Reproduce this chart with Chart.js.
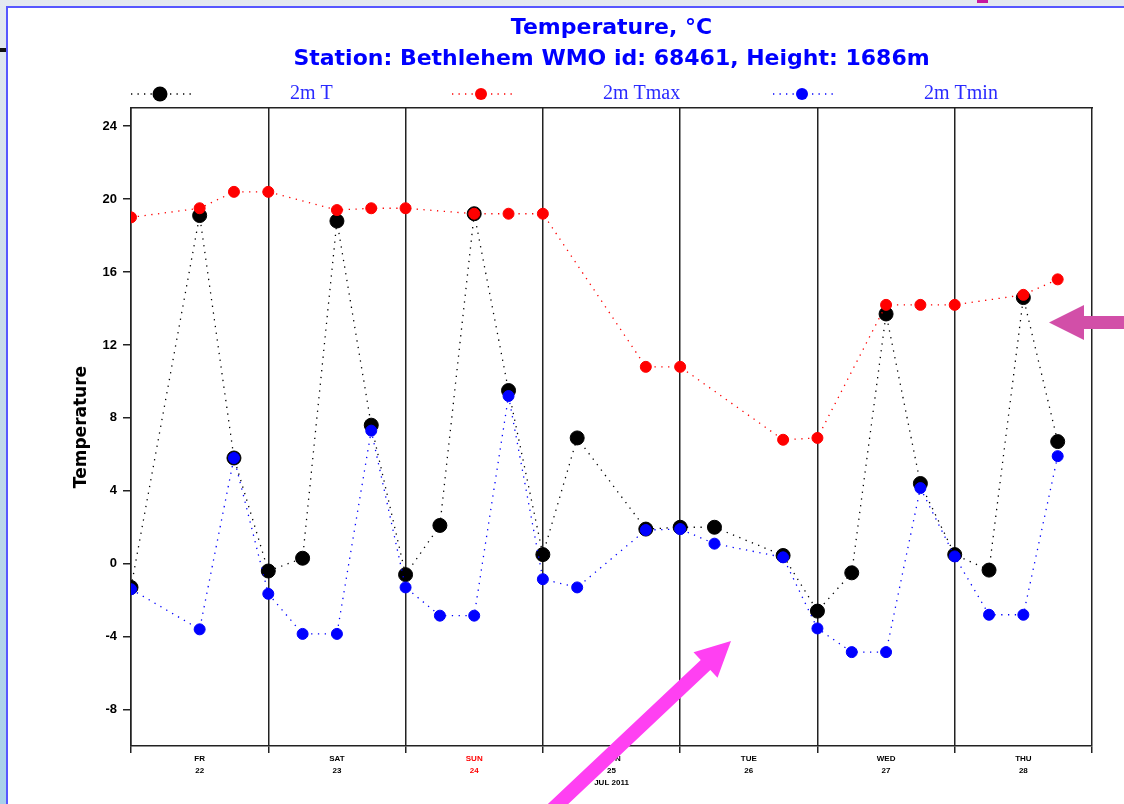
<!DOCTYPE html>
<html><head><meta charset="utf-8">
<script src="https://cdn.jsdelivr.net/npm/chart.js@4/dist/chart.umd.min.js"></script>
<style>
html,body{margin:0;padding:0;width:1124px;height:804px;overflow:hidden;}
body{background:linear-gradient(to bottom,#e4e9f0 0%,#cadcea 40%,#a8d1ea 100%);position:relative;}
#panel{position:absolute;left:6px;top:6px;right:0;bottom:0;background:#fff;border-left:2px solid #5757ff;border-top:2px solid #5757ff;}
#dash{position:absolute;left:0;top:48px;width:6px;height:4px;background:#111;}
#mark{position:absolute;left:977px;top:0;width:11px;height:3px;background:#c8179f;}
#c{position:absolute;left:0;top:0;}
</style></head><body>
<div id="panel"></div><div id="dash"></div><div id="mark"></div>
<canvas id="c" width="1124" height="804"></canvas>
<script>
// ---- data (hours since Fri 22 Jul 2011 00 UTC) ----
const hours = [0,12,18,24,30,36,42,48,54,60,66,72,78,90,96,102,114,120,126,132,138,144,150,156,162];
const t2m  = [-1.3,19.1,5.8,-0.4,0.3,18.8,7.6,-0.6,2.1,19.2,9.5,0.5,6.9,1.9,2.0,2.0,0.45,-2.6,-0.5,13.7,4.4,0.5,-0.35,14.6,6.7];
const tmax = [19.0,19.5,20.4,20.4,null,19.4,19.5,19.5,null,19.2,19.2,19.2,null,10.8,10.8,null,6.8,6.9,null,14.2,14.2,14.2,null,14.75,15.6];
const tmin = [-1.4,-3.6,5.8,-1.65,-3.85,-3.85,7.3,-1.3,-2.85,-2.85,9.2,-0.85,-1.3,1.85,1.9,1.1,0.35,-3.55,-4.85,-4.85,4.15,0.4,-2.8,-2.8,5.9];
const yTicks = [-8,-4,0,4,8,12,16,20,24];
const dayNames = ['FR','SAT','SUN','MON','TUE','WED','THU'];
const dayDates = ['22','23','24','25','26','27','28'];
const monthLabel = 'JUL 2011';
const monthLabelDay = 3;
const seriesNames = ['2m T','2m Tmax','2m Tmin'];
const titleLines = ['Temperature, °C','Station: Bethlehem WMO id: 68461, Height: 1686m'];
const yTitle = 'Temperature';

function pts(arr){ return hours.map((h,i)=>({x:h,y:arr[i]})); }

const dotLegend = {
  id:'dotLegend',
  afterDraw(chart, args, o){
    const ctx = chart.ctx;
    ctx.save();
    chart.data.datasets.forEach((ds,i)=>{
      const cx = o.markerX[i], cy = o.y;
      ctx.strokeStyle = ds.borderColor; ctx.lineWidth = 1.3; ctx.setLineDash([1.3,5.2]);
      ctx.beginPath(); ctx.moveTo(cx-29, cy); ctx.lineTo(cx+31, cy); ctx.stroke();
      ctx.setLineDash([]);
      ctx.fillStyle = ds.pointBackgroundColor;
      ctx.beginPath(); ctx.arc(cx, cy, o.radius[i], 0, Math.PI*2); ctx.fill();
      ctx.font = o.font; ctx.fillStyle = o.color; ctx.textBaseline = 'middle'; ctx.textAlign = 'left';
      ctx.fillText(ds.label, o.textX[i], cy);
    });
    ctx.restore();
  }
};

function arrow(ctx, tx, ty, sx, sy, headLen, headHalf, shaftHalf, color){
  const dx = tx-sx, dy = ty-sy, L = Math.hypot(dx,dy), ux = dx/L, uy = dy/L, px = -uy, py = ux;
  const bx = tx-ux*headLen, by = ty-uy*headLen;
  ctx.fillStyle = color;
  ctx.beginPath();
  ctx.moveTo(sx+px*shaftHalf, sy+py*shaftHalf);
  ctx.lineTo(bx+px*shaftHalf, by+py*shaftHalf);
  ctx.lineTo(bx+px*headHalf, by+py*headHalf);
  ctx.lineTo(tx, ty);
  ctx.lineTo(bx-px*headHalf, by-py*headHalf);
  ctx.lineTo(bx-px*shaftHalf, by-py*shaftHalf);
  ctx.lineTo(sx-px*shaftHalf, sy-py*shaftHalf);
  ctx.closePath(); ctx.fill();
}
const arrows = {
  id:'arrows',
  afterDraw(chart){
    const ctx = chart.ctx; ctx.save();
    arrow(ctx, 731, 641, 540, 821, 35, 17.5, 7, '#ff40f2');
    arrow(ctx, 1049, 322.5, 1140, 322.5, 35, 17.5, 6.5, '#d24fa8');
    ctx.restore();
  }
};

const isDay = v => v % 24 === 12;
const lineCol = c => (c.tick && c.tick.value % 24 === 0) ? '#222' : 'rgba(0,0,0,0)';

new Chart(document.getElementById('c'), {
  type:'line',
  data:{ datasets:[
    {label:seriesNames[0], data:pts(t2m), borderColor:'#000', backgroundColor:'#000', pointBackgroundColor:'#000', pointBorderColor:'#000', pointRadius:7, pointBorderWidth:1, borderWidth:1.3, borderDash:[1.3,5.5], order:3, spanGaps:true, tension:0},
    {label:seriesNames[1], data:pts(tmax), borderColor:'#ff0000', backgroundColor:'#ff0000', pointBackgroundColor:'#ff0000', pointBorderColor:'#ff0000', pointRadius:5.5, pointBorderWidth:1, borderWidth:1.3, borderDash:[1.3,5.5], order:2, spanGaps:true, tension:0},
    {label:seriesNames[2], data:pts(tmin), borderColor:'#0000ff', backgroundColor:'#0000ff', pointBackgroundColor:'#0000ff', pointBorderColor:'#0000ff', pointRadius:5.5, pointBorderWidth:1, borderWidth:1.3, borderDash:[1.3,5.5], order:1, spanGaps:true, tension:0}
  ]},
  plugins:[dotLegend, arrows],
  options:{
    responsive:false, animation:false,
    layout:{padding:{left:0,right:32,top:0,bottom:0}},
    plugins:{
      legend:{display:false},
      tooltip:{enabled:false},
      title:{display:true, fullSize:false, text:titleLines, color:'#0000ff',
        font:{family:"'DejaVu Sans', sans-serif", size:22, weight:'bold', lineHeight:1.4},
        padding:{top:13,bottom:33.4}},
      dotLegend:{markerX:[160,481,802], textX:[290,603,924], y:94, radius:[7.5,6,6],
        font:"20px 'Liberation Serif'", color:'#2a2aff'}
    },
    scales:{
      x:{type:'linear', min:0, max:168,
        afterFit(s){ s.height = 58; },
        grid:{color:lineCol, tickColor:lineCol, lineWidth:1.5, tickLength:7},
        border:{display:true, color:'#222', width:1.5},
        ticks:{stepSize:12, autoSkip:false, maxRotation:0, padding:0,
          callback(v){ if(!isDay(v)) return ''; const i=(v-12)/24; const l=[dayNames[i], dayDates[i]]; if(i===monthLabelDay) l.push(monthLabel); return l; },
          color(c){ const v=c.tick?c.tick.value:0; return (isDay(v) && dayNames[(v-12)/24]==='SUN') ? '#ff0000' : '#000'; },
          font:{family:"'Liberation Sans', sans-serif", size:8, weight:'bold', lineHeight:1.5}}
      },
      x2:{type:'linear', position:'top', min:0, max:168,
        afterFit(s){ s.height = 0; },
        grid:{display:false, drawTicks:false}, ticks:{display:false},
        border:{display:true, color:'#222', width:1.5}},
      y:{min:-10, max:25,
        afterBuildTicks(s){ s.ticks = yTicks.map(v=>({value:v})); },
        afterFit(s){ s.width = 131; },
        grid:{drawOnChartArea:false, tickLength:8, color:'#222', lineWidth:1.5},
        border:{display:true, color:'#222', width:1.5},
        ticks:{padding:6, color:'#000', font:{family:"'Liberation Sans', sans-serif", size:13, weight:'bold'}},
        title:{display:true, text:yTitle, color:'#000', font:{family:"'DejaVu Sans', sans-serif", size:17, weight:'bold'}, padding:{top:71,bottom:0}}
      }
    }
  }
});
</script></body></html>
